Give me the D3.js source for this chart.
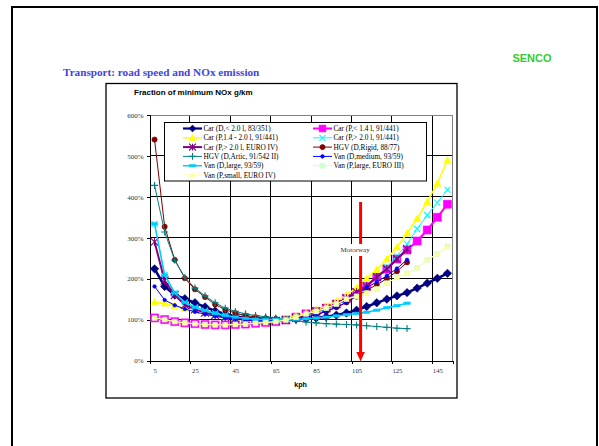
<!DOCTYPE html>
<html><head><meta charset="utf-8">
<script src="https://cdn.jsdelivr.net/npm/d3@7"></script>
<style>body{margin:0;background:#fff}svg{display:block}</style>
</head><body>
<svg id="c" width="599" height="446"></svg>
<script>
// ---------------- DATA ----------------
const kph = [5,10,15,20,25,30,35,40,45,50,55,60,65,70,75,80,85,90,95,100,105,110,115,120,125,130,135,140,145,150];
const xTickLabels = [5,25,45,65,85,105,125,145];
const yTicks = [0,100,200,300,400,500,600];
const seriesNames = [
  "Car (D,< 2.0 l, 83/351)",
  "Car (P,< 1.4 l, 91/441)",
  "Car (P,1.4 - 2.0 l, 91/441)",
  "Car (P,> 2.0 l, 91/441)",
  "Car (P,> 2.0 l, EURO IV)",
  "HGV (D,Rigid, 88/77)",
  "HGV (D,Artic, 91/542 II)",
  "Van (D,medium, 93/59)",
  "Van (D,large, 93/59)",
  "Van (P,large, EURO III)",
  "Van (P,small, EURO IV)"
];
const carD20     = [224,181,160,151,141,131,121,114,108,104,102,101,100,100,101,102,104,107,111,116,123,132,141,150,158,166,177,189,201,213];
const carP14     = [104,100,95,92,90,88,87,87,88,89,91,93,95,99,106,114,120,128,138,152,166,181,204,223,248,270,292,319,350,382];
const carP1420   = [143,140,134,127,122,117,112,108,105,102,100,99,100,103,109,116,124,133,145,160,178,200,222,248,277,311,347,388,433,490];
const carP20     = [334,209,165,142,130,122,115,110,106,103,101,100,100,101,105,110,117,125,135,147,165,183,204,228,255,285,322,355,386,417];
const carP20E4   = [290,195,160,136,125,117,111,106,103,100,98,97,97,99,104,112,120,128,138,152,167,182,204,224,248,272,null,null,null,null];
const hgvRigid   = [540,327,246,201,174,155,137,124,116,110,106,103,101,100,102,106,112,120,130,142,156,172,185,200,218,240,null,null,null,null];
const hgvArtic   = [428,314,245,203,177,158,141,128,120,114,110,107,104,100,97,94,92,90,89,88,87,85,83,81,79,78,null,null,null,null];
const vanDmedium = [181,148,135,126,119,113,108,104,101,99,98,98,99,100,102,106,112,120,130,142,160,178,192,207,225,246,null,null,null,null];
const vanDlarge  = [334,209,165,142,130,122,115,110,106,103,101,100,100,100,101,102,104,106,109,112,115,118,123,129,134,140,null,null,null,null];
const vanPlarge  = [104,100,95,92,90,88,87,87,88,89,91,93,95,99,106,114,120,128,138,150,157,165,175,189,203,213,226,246,260,279];
const vanPsmall  = [104,100,95,92,90,88,87,87,88,89,91,93,95,99,106,114,120,128,138,150,157,165,175,189,203,213,226,246,260,279];
const motorwayKph = 107;
const motorwayLabel = "Motorway";

const seriesValues = [carD20,carP14,carP1420,carP20,carP20E4,hgvRigid,hgvArtic,vanDmedium,vanDlarge,vanPlarge,vanPsmall];

// ---------------- STYLES ----------------
const styles = [
  {color:"#000080", width:2.5, marker:"diamond",  r:4.2},
  {color:"#FF00FF", width:2,   marker:"square",   r:4},
  {color:"#FFFF00", width:1.5, marker:"triangle", r:3.6},
  {color:"#00FFFF", width:1,   marker:"x",        r:3},
  {color:"#800080", width:2,   marker:"star",     r:4},
  {color:"#800000", width:1,   marker:"circle",   r:2.6},
  {color:"#008080", width:1,   marker:"plus",     r:3.5},
  {color:"#0000FF", width:1,   marker:"circle",   r:1.8},
  {color:"#00CCFF", width:1.5, marker:"dash",     r:3.2},
  {color:"#CCFFCC", width:1,   marker:"square",   r:2.4},
  {color:"#FFFF99", width:1,   marker:"triangle", r:2.4}
];

function markerPath(type, r){
  switch(type){
    case "diamond": return `M0,${-r}L${r},0L0,${r}L${-r},0Z`;
    case "square": return `M${-r},${-r}H${r}V${r}H${-r}Z`;
    case "triangle": return `M0,${-r}L${r},${r*0.8}L${-r},${r*0.8}Z`;
    case "circle": return `M${r},0A${r},${r} 0 1,1 ${-r},0A${r},${r} 0 1,1 ${r},0Z`;
    case "plus": return `M${-r},0H${r}M0,${-r}V${r}`;
    case "x": return `M${-r},${-r}L${r},${r}M${-r},${r}L${r},${-r}`;
    case "star": return `M${-r},${-r}L${r},${r}M${-r},${r}L${r},${-r}M0,${-r}V${r}`;
    case "dash": return `M${-r},-1.2H${r}V1.2H${-r}Z`;
  }
}
const stroked = t => (t==="plus"||t==="x"||t==="star");

// ---------------- LAYOUT ----------------
const svg = d3.select("#c");
const serif = "'Liberation Serif','Times New Roman',serif";
const sans = "'Liberation Sans',Arial,sans-serif";

// page frame
svg.append("rect").attr("x",12).attr("y",7).attr("width",585).attr("height",470)
  .attr("fill","none").attr("stroke","#000").attr("stroke-width",2);

svg.append("text").attr("x",63).attr("y",75.5)
  .attr("font-family",serif).attr("font-weight","bold").attr("font-size",11.2)
  .attr("fill","#4444DD").text("Transport: road speed and NOx emission");

svg.append("text").attr("x",532).attr("y",61.7).attr("text-anchor","middle")
  .attr("font-family",sans).attr("font-weight","bold").attr("font-size",11)
  .attr("fill","#33CC33").text("SENCO");

// chart frame
svg.append("rect").attr("x",106).attr("y",83.5).attr("width",351).attr("height",314.5)
  .attr("fill","#fff").attr("stroke","#000").attr("stroke-width",1.3);

svg.append("text").attr("x",134).attr("y",95)
  .attr("font-family",sans).attr("font-weight","bold").attr("font-size",8)
  .attr("fill","#000").text("Fraction of minimum NOx g/km");

const L = 149.5, R = 452.5, T = 115, B = 360.5;
const x = d3.scaleLinear().domain([kph[0]-2.5, kph[kph.length-1]+2.5]).range([L, R]);
const y = d3.scaleLinear().domain([0, 600]).range([B, T]);
const halfCat = (kph[1]-kph[0])/2;
const crisp = v => Math.round(v - 0.5) + 0.5;

// gridlines
const g = svg.append("g").attr("shape-rendering","crispEdges");
g.selectAll(".hg").data(yTicks.filter(v=>v>0 && v<600)).join("line")
  .attr("x1",L).attr("x2",R).attr("y1",d=>crisp(y(d))).attr("y2",d=>crisp(y(d)))
  .attr("stroke","#000").attr("stroke-width",1);
g.selectAll(".vg").data(xTickLabels.slice(1).map(v=>v-halfCat)).join("line")
  .attr("x1",d=>crisp(x(d))).attr("x2",d=>crisp(x(d))).attr("y1",T).attr("y2",B)
  .attr("stroke","#000").attr("stroke-width",1);
// plot border top / right
g.append("path").attr("d",`M${L},${crisp(T)}H${R}V${B}`).attr("fill","none")
  .attr("stroke","#808080").attr("stroke-width",1);

// axes
const yAxis = d3.axisLeft(y).tickValues(yTicks).tickSize(3).tickPadding(3).tickFormat(d=>d+"%");
const ya = svg.append("g").attr("transform",`translate(${L},0)`).attr("shape-rendering","crispEdges").call(yAxis);
ya.select(".domain").attr("stroke","#000");
ya.selectAll("text").attr("font-family",serif).attr("font-size",7).attr("fill","#333");

const xTickAxis = d3.axisBottom(x).tickValues(xTickLabels.map(v=>v-halfCat)).tickSize(3).tickFormat("");
const xa = svg.append("g").attr("transform",`translate(0,${B})`).attr("shape-rendering","crispEdges").call(xTickAxis);
xa.select(".domain").attr("stroke","#000");
const xLabAxis = d3.axisBottom(x).tickValues(xTickLabels).tickSize(0).tickPadding(8).tickFormat(d=>d);
const xl = svg.append("g").attr("transform",`translate(0,${B})`).call(xLabAxis);
xl.select(".domain").remove();
xl.selectAll("text").attr("font-family",serif).attr("font-size",6.7).attr("fill","#333");

svg.append("text").attr("x",300.5).attr("y",386.5).attr("text-anchor","middle")
  .attr("font-family",sans).attr("font-weight","bold").attr("font-size",7.1).text("kph");

// series
const line = d3.line().defined(d=>d.v!=null).x(d=>x(d.k)).y(d=>y(d.v));
seriesValues.forEach((vals, si)=>{
  const st = styles[si];
  const pts = vals.map((v,i)=>({k:kph[i], v}));
  const sg = svg.append("g");
  sg.append("path").attr("d", line(pts)).attr("fill","none")
    .attr("stroke", st.color).attr("stroke-width", st.width);
  sg.selectAll("path.m").data(pts.filter(d=>d.v!=null)).join("path").attr("class","m")
    .attr("transform", d=>`translate(${x(d.k)},${y(d.v)})`)
    .attr("d", markerPath(st.marker, st.r))
    .attr("fill", stroked(st.marker) ? "none" : st.color)
    .attr("stroke", st.color).attr("stroke-width", stroked(st.marker)?1.1:0.6);
});

// motorway arrow
const mx = x(motorwayKph);
svg.append("line").attr("x1",mx).attr("x2",mx).attr("y1",202).attr("y2",353)
  .attr("stroke","#FF0000").attr("stroke-width",3);
svg.append("path").attr("d",`M${mx-4.2},352L${mx+4.2},352L${mx},${B+1}Z`).attr("fill","#FF0000");
svg.append("rect").attr("x",mx-23).attr("y",244).attr("width",36).attr("height",12).attr("fill","#fff");
svg.append("text").attr("x",mx-5.5).attr("y",251.5).attr("text-anchor","middle")
  .attr("font-family",serif).attr("font-size",7).attr("fill","#333").text(motorwayLabel);

// legend
const lg = svg.append("g");
lg.append("rect").attr("x",164.5).attr("y",122.5).attr("width",262).attr("height",58.5)
  .attr("fill","#fff").attr("stroke","#000").attr("stroke-width",1);
seriesNames.forEach((name, i)=>{
  const st = styles[i];
  const col = i % 2, row = Math.floor(i/2);
  const lx = col===0 ? 183 : 313;
  const ly = 128.5 + row*9.3;
  lg.append("line").attr("x1",lx).attr("x2",lx+19).attr("y1",ly).attr("y2",ly)
    .attr("stroke",st.color).attr("stroke-width",Math.min(st.width,2.2));
  lg.append("path").attr("transform",`translate(${lx+9.5},${ly})`)
    .attr("d", markerPath(st.marker, Math.min(st.r,3.4)))
    .attr("fill", stroked(st.marker) ? "none" : st.color)
    .attr("stroke", st.color).attr("stroke-width", stroked(st.marker)?1.1:0.6);
  lg.append("text").attr("x",lx+20.5).attr("y",ly+2.5)
    .attr("font-family",serif).attr("font-size",7.3).attr("fill","#000").text(name);
});
</script>
</body></html>
